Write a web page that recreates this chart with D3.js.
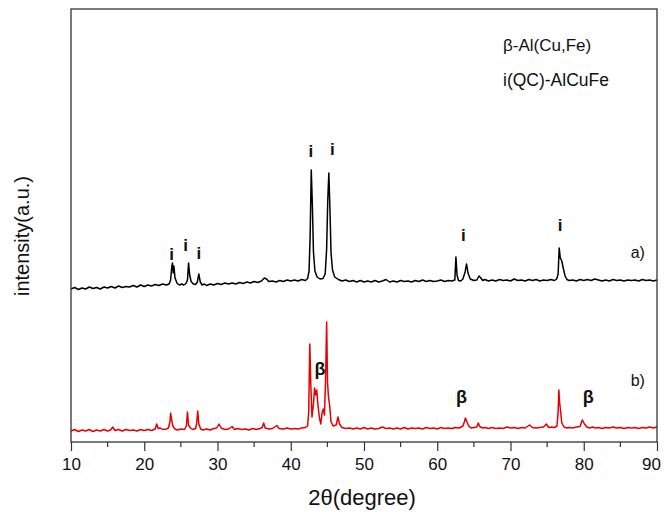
<!DOCTYPE html>
<html>
<head>
<meta charset="utf-8">
<script src="https://cdn.jsdelivr.net/npm/d3@7/dist/d3.min.js"></script>
<style>
  body { margin: 0; background: #fff; }
  text { font-family: "Liberation Sans", Arial, sans-serif; fill: #111; }
</style>
</head>
<body>
<div id="chart"></div>
<script>

// pattern a) black, i(QC) phase  [2theta, intensity]
let patternA = [
    [10.0,8.0],[10.5,9.5],[11.0,7.5],[11.5,9.0],[12.0,8.0],[12.5,10.0],[13.0,8.5],[13.5,9.5],[14.0,8.0],[14.5,10.0],
    [15.0,9.0],[15.5,10.5],[16.0,9.0],[16.5,11.0],[17.0,9.5],[17.5,10.5],[18.0,10.0],[18.5,11.5],[19.0,10.0],[19.5,12.0],
    [20.0,10.5],[20.5,12.0],[21.0,11.0],[21.5,12.5],[22.0,11.5],[22.5,13.0],[23.0,12.0],[23.4,13.0],[23.6,17.0],[23.75,30.0],
    [23.85,34.0],[23.95,24.0],[24.05,31.0],[24.2,19.0],[24.5,13.5],[24.8,12.0],[25.1,13.0],[25.4,12.0],[25.7,13.5],[25.9,17.0],
    [26.05,34.0],[26.2,22.0],[26.4,15.5],[26.7,13.0],[27.0,12.5],[27.25,15.0],[27.45,23.0],[27.65,15.0],[27.9,12.0],[28.2,13.0],
    [28.5,11.5],[29.0,13.0],[29.5,12.0],[30.0,13.5],[30.5,12.5],[31.0,14.0],[31.5,13.0],[32.0,14.0],[32.5,13.0],[33.0,14.5],
    [33.5,13.5],[34.0,15.0],[34.5,14.0],[35.0,15.5],[35.5,14.5],[36.0,16.0],[36.4,19.0],[36.7,18.0],[37.0,15.5],[37.5,16.0],
    [38.0,15.0],[38.5,16.5],[39.0,15.5],[39.5,17.0],[40.0,16.0],[40.5,17.0],[41.0,16.0],[41.5,17.5],[42.0,16.5],[42.3,18.5],
    [42.5,26.0],[42.65,62.0],[42.8,127.0],[42.95,92.0],[43.1,45.0],[43.3,26.0],[43.6,20.0],[44.0,18.0],[44.4,18.5],[44.7,23.0],
    [44.9,48.0],[45.05,96.0],[45.2,124.0],[45.35,88.0],[45.5,44.0],[45.7,27.0],[46.0,20.0],[46.5,17.5],[47.0,16.0],[47.5,17.0],
    [48.0,15.5],[48.5,16.5],[49.0,15.0],[49.5,16.5],[50.0,15.0],[50.5,16.0],[51.0,15.0],[51.5,16.5],[52.0,15.0],[52.5,16.0],
    [53.0,17.5],[53.5,15.0],[54.0,16.0],[54.5,15.0],[55.0,16.5],[55.5,15.5],[56.0,16.0],[56.5,15.0],[57.0,16.5],[57.5,15.5],
    [58.0,17.0],[58.5,15.5],[59.0,16.5],[59.5,15.5],[60.0,16.0],[60.5,17.0],[61.0,15.5],[61.5,16.5],[62.0,16.0],[62.4,17.0],
    [62.55,40.0],[62.7,22.0],[62.9,16.5],[63.2,16.0],[63.5,18.0],[63.8,25.0],[64.0,33.0],[64.2,24.0],[64.5,18.0],[65.0,16.5],
    [65.4,17.0],[65.7,21.0],[65.9,19.5],[66.2,16.5],[66.5,17.5],[67.0,16.0],[67.5,17.0],[68.0,16.0],[68.5,17.5],[69.0,16.5],
    [69.5,17.0],[70.0,16.0],[70.5,18.0],[71.0,16.5],[71.5,17.0],[72.0,16.0],[72.5,17.5],[73.0,16.5],[73.5,17.5],[74.0,16.0],
    [74.5,17.0],[75.0,16.5],[75.5,17.5],[76.0,16.5],[76.3,18.0],[76.5,23.0],[76.65,49.0],[76.8,39.0],[77.0,36.0],[77.2,29.0],
    [77.45,21.0],[77.7,17.5],[78.0,16.5],[78.5,17.0],[79.0,16.0],[79.5,17.5],[80.0,16.5],[80.5,17.5],[81.0,16.5],[81.5,18.0],
    [82.0,17.0],[82.5,16.0],[83.0,17.0],[83.5,16.0],[84.0,17.5],[84.5,16.5],[85.0,17.0],[85.5,16.0],[86.0,17.0],[86.5,16.5],
    [87.0,17.0],[87.5,16.0],[88.0,17.5],[88.5,16.5],[89.0,17.0],[89.5,16.0],[90.0,17.0]
];

// pattern b) red, beta phase
let patternB = [
    [10.0,11.0],[10.5,12.5],[11.0,10.5],[11.5,12.0],[12.0,11.0],[12.5,12.5],[13.0,10.5],[13.5,12.0],[14.0,11.0],[14.5,12.5],
    [15.0,11.0],[15.4,12.0],[15.7,15.0],[16.0,11.5],[16.5,12.5],[17.0,11.0],[17.5,12.5],[18.0,11.5],[18.5,12.0],[19.0,11.0],
    [19.5,12.5],[20.0,11.5],[20.5,12.5],[21.0,11.5],[21.5,13.0],[21.7,18.0],[21.9,13.5],[22.2,14.0],[22.5,12.5],[23.0,13.0],
    [23.3,14.0],[23.5,20.0],[23.6,29.0],[23.75,22.0],[23.9,16.0],[24.2,13.0],[24.5,12.0],[25.0,13.0],[25.5,12.5],[25.75,16.0],
    [25.9,30.0],[26.05,17.0],[26.3,14.0],[26.6,12.5],[27.0,13.5],[27.15,18.0],[27.3,31.0],[27.45,18.0],[27.7,13.0],[28.0,12.0],
    [28.5,13.0],[29.0,12.0],[29.5,13.5],[29.9,14.0],[30.2,18.0],[30.5,14.0],[31.0,12.5],[31.5,13.0],[32.0,15.5],[32.3,12.5],
    [32.8,13.5],[33.3,12.5],[33.8,13.0],[34.3,12.0],[34.8,13.5],[35.3,12.5],[35.8,13.5],[36.1,14.5],[36.3,19.0],[36.5,14.0],
    [37.0,13.0],[37.5,13.5],[38.1,16.5],[38.4,13.5],[39.0,13.0],[39.5,14.0],[40.0,13.0],[40.5,13.5],[41.0,13.0],[41.5,14.0],
    [42.0,14.5],[42.3,16.0],[42.45,30.0],[42.6,98.0],[42.75,55.0],[42.9,25.0],[43.1,38.0],[43.25,54.0],[43.4,47.0],[43.55,52.0],
    [43.7,38.0],[43.9,25.0],[44.1,18.0],[44.3,30.0],[44.45,33.0],[44.6,27.0],[44.75,60.0],[44.9,120.0],[45.02,60.0],[45.15,45.0],
    [45.32,36.0],[45.5,20.0],[45.8,16.0],[46.2,17.0],[46.45,25.0],[46.65,18.0],[47.0,14.5],[47.5,13.5],[48.0,14.0],[48.5,13.0],
    [49.0,14.0],[49.5,13.0],[50.0,14.5],[50.5,13.0],[51.0,14.0],[51.5,13.0],[52.0,13.5],[52.5,15.0],[53.0,13.5],[53.5,14.0],
    [54.0,13.0],[54.5,14.0],[55.0,13.0],[55.5,14.5],[56.0,13.0],[56.5,14.0],[57.0,13.5],[57.5,14.0],[58.0,13.0],[58.5,14.5],
    [59.0,13.5],[59.5,14.0],[60.0,13.0],[60.5,14.5],[61.0,13.5],[61.5,14.0],[62.0,13.5],[62.5,14.5],[63.0,14.0],[63.5,16.0],
    [63.7,20.0],[63.85,24.0],[64.0,21.0],[64.3,16.0],[64.6,14.0],[65.0,14.5],[65.4,15.0],[65.6,19.0],[65.8,15.5],[66.2,14.0],
    [66.5,14.5],[67.0,13.5],[67.5,14.5],[68.0,13.5],[68.5,14.0],[69.0,13.5],[69.5,15.0],[70.0,14.0],[70.5,14.5],[71.0,13.5],
    [71.5,14.5],[72.0,14.0],[72.6,17.0],[73.0,14.5],[73.5,14.0],[74.0,14.5],[74.5,15.0],[74.9,18.0],[75.2,14.5],[75.6,15.0],
    [76.0,14.5],[76.35,16.0],[76.5,30.0],[76.6,52.0],[76.7,40.0],[76.85,30.0],[77.0,19.0],[77.3,15.0],[77.7,14.0],[78.0,14.5],
    [78.5,14.0],[79.0,15.0],[79.5,15.5],[79.8,22.0],[80.1,18.0],[80.4,15.0],[80.8,14.0],[81.2,15.0],[81.6,14.0],[82.0,14.5],
    [82.5,13.5],[83.0,14.5],[83.5,14.0],[84.0,15.0],[84.5,14.0],[85.0,14.5],[85.5,13.5],[86.0,14.5],[86.5,14.0],[87.0,14.5],
    [87.5,13.5],[88.0,14.5],[88.5,14.0],[89.0,15.0],[89.5,14.0],[90.0,15.0]
];

// vertical shift used to stack pattern a) above b)
let offsetA = 145;

// peak labels [2theta, intensity (stacked), text]
let labelsA = [
    [23.75,188,"i"],[25.66,197,"i"],[27.47,189,"i"],
    [42.76,291,"i"],[45.67,293,"i"],[63.56,207,"i"],[76.76,217,"i"]
];
let labelsB = [[44.0,73,"β"],[63.3,45,"β"],[80.6,45,"β"]];

let seriesNames = ["a)", "b)"];
let legendLines = ["β-Al(Cu,Fe)", "i(QC)-AlCuFe"];

let majorTicks = [10,20,30,40,50,60,70,80,90];
let minorTicks = [15,25,35,45,55,65,75,85];

let margin = {top: 9, right: 8, bottom: 70, left: 71},
    width = 665 - margin.left - margin.right,
    height = 512 - margin.top - margin.bottom;

let svg = d3.select("#chart").append("svg")
    .attr("width", 665)
    .attr("height", 512);

let g = svg.append("g")
    .attr("transform", "translate(" + margin.left + "," + margin.top + ")");

let x = d3.scaleLinear().domain([10, 90]).range([0, width]);
let y = d3.scaleLinear().domain([0, height]).range([height, 0]);

let line = d3.line()
    .x(function(d) { return x(d[0]); })
    .y(function(d) { return y(d[1]); });

// red pattern b)
g.append("path")
    .datum(patternB)
    .attr("fill", "none")
    .attr("stroke", "#e60000")
    .attr("stroke-width", 1.5)
    .attr("stroke-linejoin", "round")
    .attr("d", line);

// black pattern a), shifted up
g.append("path")
    .datum(patternA.map(function(d) { return [d[0], d[1] + offsetA]; }))
    .attr("fill", "none")
    .attr("stroke", "#000")
    .attr("stroke-width", 1.5)
    .attr("stroke-linejoin", "round")
    .attr("d", line);

// bottom axis: major + minor ticks pointing outward
let axis = g.append("g")
    .attr("transform", "translate(0," + height + ")")
    .call(d3.axisBottom(x).tickValues(majorTicks).tickSize(9).tickPadding(7)
        .tickFormat(d3.format("d")));
axis.select(".domain").remove();
axis.selectAll("line").attr("stroke", "#333").attr("stroke-width", 1.2);
axis.selectAll("text")
    .style("font-size", "17px")
    .attr("fill", "#222");
// last label sits against the right edge of the picture
axis.selectAll("text")
    .filter(function(d) { return d === 90; })
    .attr("dx", -6);

g.append("g")
    .selectAll("line")
    .data(minorTicks)
    .enter().append("line")
    .attr("x1", function(d) { return x(d); })
    .attr("x2", function(d) { return x(d); })
    .attr("y1", height)
    .attr("y2", height + 5)
    .attr("stroke", "#333")
    .attr("stroke-width", 1.2);

// frame
g.append("rect")
    .attr("width", width)
    .attr("height", height)
    .attr("fill", "none")
    .attr("stroke", "#333")
    .attr("stroke-width", 1.3);

// peak labels
g.selectAll(".lblA")
    .data(labelsA)
    .enter().append("text")
    .attr("class", "lblA")
    .attr("x", function(d) { return x(d[0]); })
    .attr("y", function(d) { return y(d[1]); })
    .attr("text-anchor", "middle")
    .attr("dominant-baseline", "central")
    .style("font-size", "17px")
    .style("font-weight", "bold")
    .text(function(d) { return d[2]; });

g.selectAll(".lblB")
    .data(labelsB)
    .enter().append("text")
    .attr("class", "lblB")
    .attr("x", function(d) { return x(d[0]); })
    .attr("y", function(d) { return y(d[1]); })
    .attr("text-anchor", "middle")
    .attr("dominant-baseline", "central")
    .style("font-size", "18px")
    .style("font-weight", "bold")
    .text(function(d) { return d[2]; });

// series names a) b)
g.selectAll(".sname")
    .data(seriesNames)
    .enter().append("text")
    .attr("class", "sname")
    .attr("x", x(86.4))
    .attr("y", function(d, i) { return i === 0 ? y(190) : y(62); })
    .attr("dominant-baseline", "central")
    .style("font-size", "16px")
    .text(function(d) { return d; });

// phase legend
g.selectAll(".legend")
    .data(legendLines)
    .enter().append("text")
    .attr("class", "legend")
    .attr("x", 432)
    .attr("y", function(d, i) { return 36 + i * 35; })
    .attr("dominant-baseline", "central")
    .style("font-size", function(d, i) { return i === 0 ? "17px" : "17.5px"; })
    .text(function(d) { return d; });

// axis titles
svg.append("text")
    .attr("x", 362)
    .attr("y", 497)
    .attr("text-anchor", "middle")
    .attr("dominant-baseline", "central")
    .style("font-size", "22px")
    .text("2θ(degree)");

svg.append("text")
    .attr("transform", "translate(22,236) rotate(-90)")
    .attr("text-anchor", "middle")
    .attr("dominant-baseline", "central")
    .style("font-size", "20px")
    .text("intensity(a.u.)");

</script>
</body>
</html>
